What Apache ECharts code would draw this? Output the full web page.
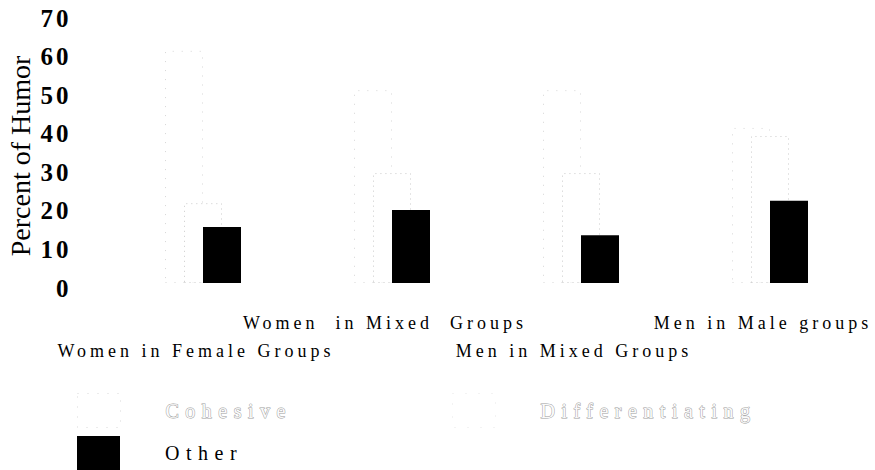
<!DOCTYPE html>
<html>
<head>
<meta charset="utf-8">
<script src="https://cdn.jsdelivr.net/npm/echarts@6/dist/echarts.min.js"></script>
<style>
html,body{margin:0;padding:0;background:#fff;}
#c{width:875px;height:470px;}
#c text[style*="18px"]{letter-spacing:4px;}
#c text[style*="20px"]{letter-spacing:6.5px;}
#c text[style*="25px"]{letter-spacing:3px;}
</style>
</head>
<body>
<div id="c"></div>
<script>
var categories = ['Women in Female Groups', 'Women  in Mixed  Groups', 'Men in Mixed Groups', 'Men in Male groups'];
var cohesive = [60.2, 50, 50, 40.2];
var differentiating = [20.7, 28.5, 28.5, 38.1];
var other = [14.5, 18.9, 12.4, 21.3];
var yTicks = [0, 10, 20, 30, 40, 50, 60, 70];

var chart = echarts.init(document.getElementById('c'), null, {renderer: 'svg'});
var serif = 'Liberation Serif';
var hollow = {color: '#fafafa', textBorderColor: '#a0a0a0', textBorderWidth: 1};

chart.setOption({
  animation: false,
  backgroundColor: '#fff',
  grid: {left: 108.5, top: 13, width: 756, height: 270, containLabel: false},
  xAxis: {
    type: 'category',
    data: categories,
    axisLine: {show: false},
    axisTick: {show: false},
    axisLabel: {
      interval: 0,
      margin: 26,
      fontFamily: serif,
      fontSize: 18,
      lineHeight: 28,
      color: '#000',
      padding: [0, 14, 0, 0],
      formatter: function (v, i) { return i % 2 === 0 ? '\n' + v : v; }
    }
  },
  yAxis: {
    type: 'value',
    min: yTicks[0],
    max: yTicks[yTicks.length - 1],
    interval: 10,
    splitLine: {show: false},
    axisLine: {show: false},
    axisTick: {show: false},
    axisLabel: {
      margin: 37,
      fontFamily: serif,
      fontWeight: 'bold',
      fontSize: 25,
      color: '#000',
      verticalAlign: 'top',
      lineHeight: 10
    }
  },
  graphic: [{
    type: 'text',
    x: 20, y: 156,
    rotation: Math.PI / 2,
    style: {
      text: 'Percent of Humor',
      fontFamily: serif,
      fontSize: 28,
      fill: '#000',
      align: 'center',
      verticalAlign: 'middle'
    }
  }],
  legend: [
    {
      data: ['Cohesive'], left: 77, top: 393, padding: 0, itemWidth: 43, itemHeight: 34,
      icon: 'rect', selectedMode: false,
      itemStyle: {color: '#fff', borderColor: '#d8d8d8', borderWidth: 1, borderType: [1, 9]},
      textStyle: Object.assign({fontFamily: serif, fontSize: 20, padding: [0, 0, 0, 40]}, hollow)
    },
    {
      data: ['Differentiating'], left: 452, top: 393, padding: 0, itemWidth: 43, itemHeight: 34,
      icon: 'rect', selectedMode: false,
      itemStyle: {color: '#fff', borderColor: '#e6e6e6', borderWidth: 1, borderType: [1, 12]},
      textStyle: Object.assign({fontFamily: serif, fontSize: 20, padding: [0, 0, 0, 40]}, hollow)
    },
    {
      data: ['Other'], left: 77, top: 436, padding: 0, itemWidth: 43, itemHeight: 34,
      icon: 'rect', selectedMode: false,
      textStyle: {fontFamily: serif, fontSize: 20, color: '#000', padding: [0, 0, 0, 40]}
    }
  ],
  series: [
    {
      name: 'Cohesive', type: 'bar', data: cohesive, barWidth: 38, barGap: '-50%',
      itemStyle: {color: '#fff', borderColor: '#d6d6d6', borderWidth: 1, borderType: [1, 8]}
    },
    {
      name: 'Differentiating', type: 'bar', data: differentiating, barWidth: 38, barGap: '-50%',
      itemStyle: {color: '#fff', borderColor: '#cacaca', borderWidth: 1, borderType: [1, 4]}
    },
    {
      name: 'Other', type: 'bar', data: other, barWidth: 38, barGap: '-50%',
      itemStyle: {color: '#000'}
    }
  ]
});
</script>
</body>
</html>
